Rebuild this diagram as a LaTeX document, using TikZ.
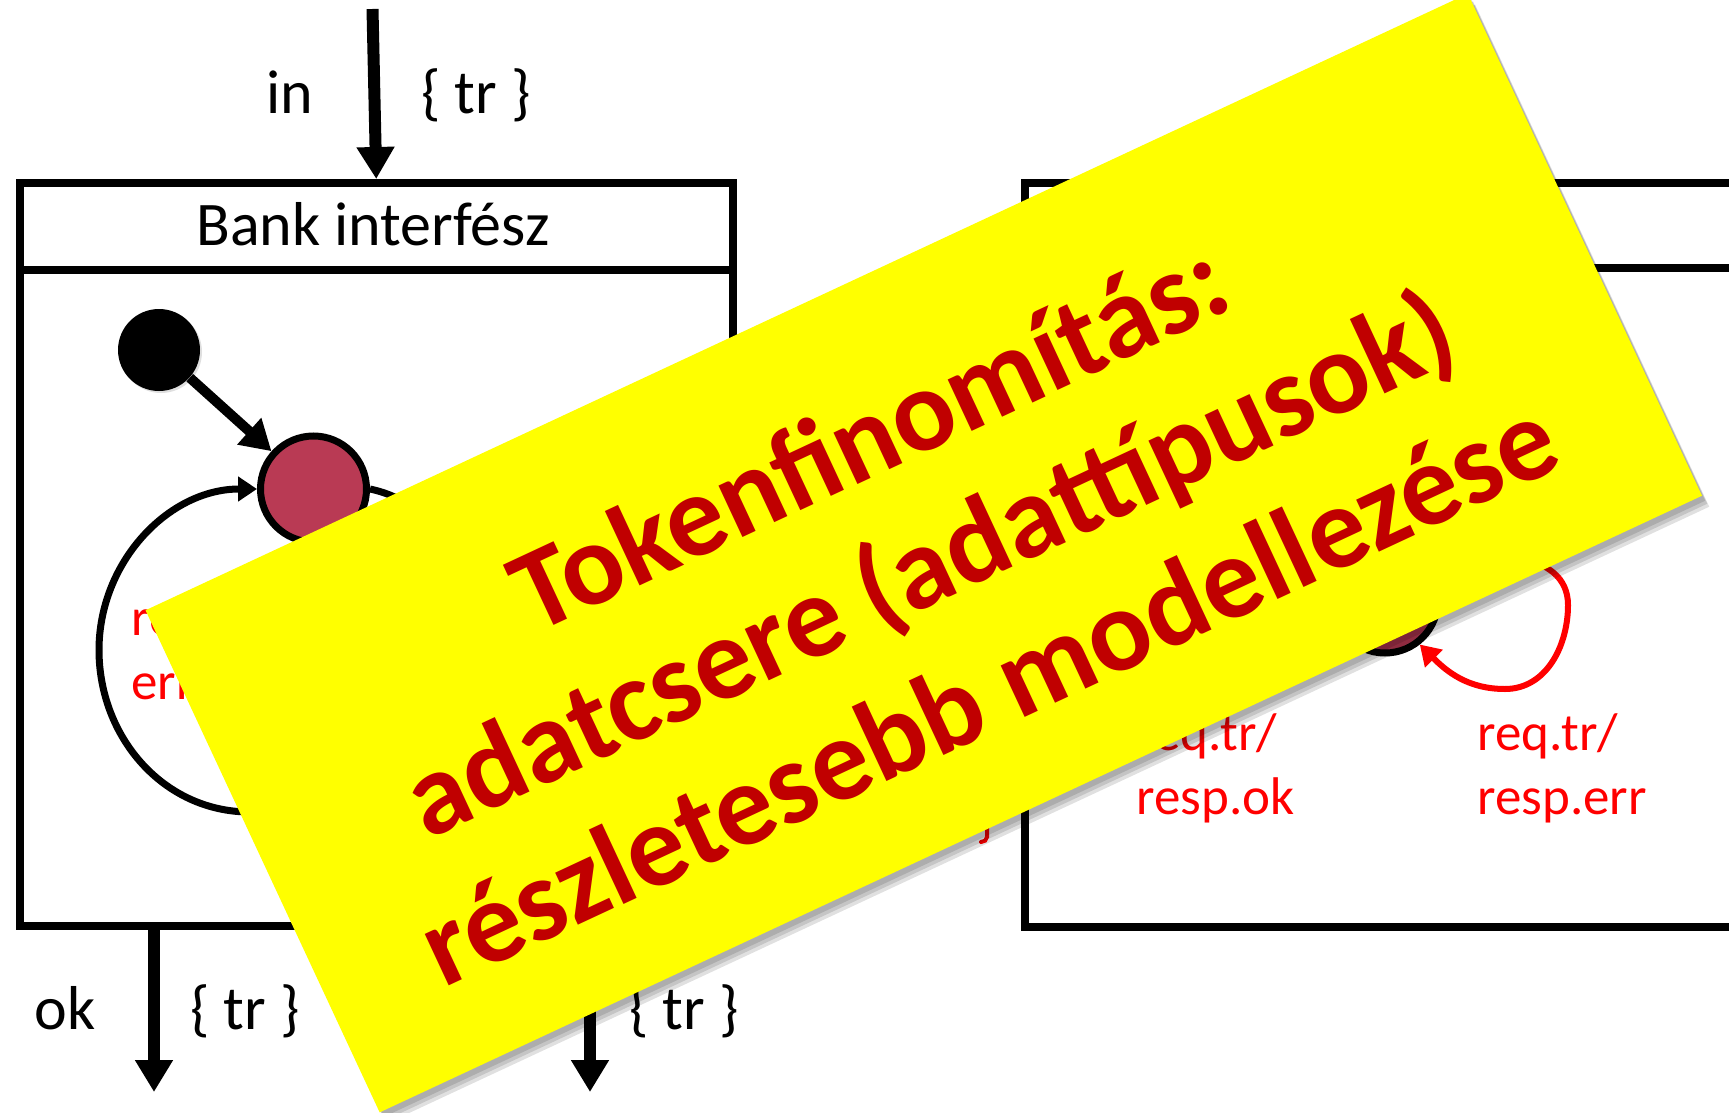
\documentclass[tikz,border=0pt]{standalone}
\usepackage{fontspec}
\setmainfont{Carlito}
\usetikzlibrary{arrows.meta,shadows}
\definecolor{statered}{RGB}{185,58,84}
\definecolor{notered}{RGB}{192,0,0}
\definecolor{noteyellow}{RGB}{255,255,0}
\begin{document}
\begin{tikzpicture}[x=0.5pt,y=0.5pt,
  frame/.style={draw=black,line width=3.75pt,fill=white,inner sep=0pt,anchor=north west,
    drop shadow={shadow xshift=1.5pt,shadow yshift=-1.5pt,opacity=0.25}},
  divider/.style={line width=3.75pt},
  flow/.style={line width=6pt,-{Triangle[length=16pt,width=18pt]}},
  blk/.style={font=\fontsize{31}{37}\selectfont,inner sep=0pt,anchor=base},
  redlbl/.style={text=red,font=\fontsize{26.5}{32}\selectfont,inner sep=0pt,anchor=base west},
  statenode/.style={circle,draw=black,line width=3.5pt,fill=statered,minimum size=53pt,inner sep=0pt,
    drop shadow={shadow xshift=1pt,shadow yshift=-1pt,opacity=0.25}},
  initnode/.style={circle,fill=black,minimum size=41pt,inner sep=0pt,
    drop shadow={shadow xshift=1pt,shadow yshift=-1pt,opacity=0.25}},
  initarrow/.style={line width=5pt,-{Triangle[length=15pt,width=17pt]}},
  loopline/.style={line width=3.5pt,-{Triangle[length=9.5pt,width=12pt]}},
  plainline/.style={line width=3.5pt},
  redloop/.style={draw=red,line width=3pt,-{Triangle[length=10pt,width=12pt]}},
  notebox/.style={fill=noteyellow,rotate=25,minimum width=729.5pt,minimum height=277pt,inner sep=0pt},
  noteshade/.style={fill=black,opacity=0.12,rotate=25,minimum width=729.5pt,minimum height=277pt,inner sep=0pt},
  notetext/.style={text=notered,rotate=25,align=center,inner sep=0pt,
    font=\bfseries\fontsize{58.5}{70.5}\selectfont}
]
\useasboundingbox (0,0) rectangle (1729,-1113);
\clip (0,0) rectangle (1729,-1113);

% ---- left machine: Bank interfesz ----
\node[frame,minimum width=356.5pt,minimum height=371.5pt] (box1) at (16,-179) {};
\draw[divider] (16,-270) -- (729,-270);
\node[blk] (title1) at (373,-245) {Bank interfész};

\coordinate (inTop) at (372.5,-9);
\draw[flow] (inTop) -- (box1.north);
\node[blk] (inlbl) at (290,-114) {in};
\node[blk] (intr) at (476,-114) {\{ tr \}};

\node[initnode] (init) at (159,-350) {};
\node[statenode] (s1) at (313.5,-489) {};
\draw[initarrow] (init) -- (s1);
\draw[loopline] (s1.south) to[out=-60,in=0] (250,-812) to[out=180,in=-90] (99,-650) to[out=90,in=180] (s1.west);
\draw[plainline] (s1.east) to[out=-12,in=90] (470,-640);
\node[redlbl] (l1a) at (131,-635) {resp.err/};
\node[redlbl] (l1b) at (131,-699) {err.tr};
\draw[red,line width=2pt,line cap=round] (987,-828) -- (987,-837) to[out=-90,in=0] (981,-842);

\coordinate (ok1) at (154,-922);
\coordinate (ok2) at (154,-1092);
\draw[flow] (ok1) -- (ok2);
\node[blk] (oklbl) at (65,-1029) {ok};
\node[blk] (oktr) at (245,-1029) {\{ tr \}};
\coordinate (er1) at (590,-922);
\coordinate (er2) at (590,-1092);
\draw[flow] (er1) -- (er2);
\node[blk] (ertr) at (684,-1029) {\{ tr \}};

% ---- right machine ----
\node[frame,minimum width=400pt,minimum height=372pt] (box2) at (1021,-179) {};
\draw[divider] (1021,-268) -- (1850,-268);
\node[statenode] (s2) at (1385,-600) {};
\draw[redloop] (s2.35) to[out=20,in=90] (1568,-605) to[out=-90,in=0] (1505,-689) to[out=180,in=-45] (s2.-52);
\node[redlbl] (r1a) at (1136,-750) {req.tr/};
\node[redlbl] (r1b) at (1136,-814) {resp.ok};
\node[redlbl] (r2a) at (1477,-750) {req.tr/};
\node[redlbl] (r2b) at (1477,-814) {resp.err};

% ---- yellow note ----
\node[noteshade] (sh1) at (927,-558) {};
\node[noteshade] (sh2) at (929,-561) {};
\node[noteshade] (sh3) at (931,-564) {};
\node[notebox] (note) at (923.75,-553) {};
\node[notetext] (ntext) at (928,-562) {Tokenfinomítás:\\adatcsere (adattípusok)\\részletesebb modellezése};
\end{tikzpicture}
\end{document}
